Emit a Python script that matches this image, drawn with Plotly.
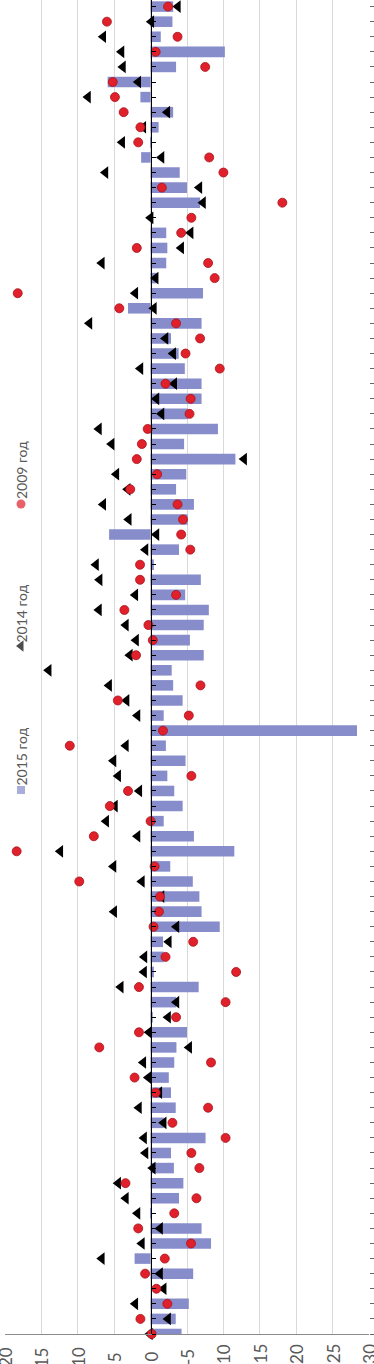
import plotly.graph_objects as go

# ---------------- data (original order: first category at the bottom) ----------------
categories = [f"Регион {i}" for i in range(1, 90)]

# values read top->bottom in the picture, reversed below so index 0 = bottom row
v2015_top = [-3.1, -3.0, -1.4, -10.2, -3.5, 5.9, 1.4, -3.1, -1.1, -0.1,
             1.3, -4.0, -5.0, -6.8, 0.0, -2.15, -2.3, -2.15, -0.8, -7.2,
             3.1, -7.0, -2.8, -3.85, -4.7, -7.0, -7.0, -5.1, -9.25, -4.6,
             -11.65, -4.9, -3.5, -5.95, -5.1, 5.7, -3.9, -0.45, -6.9, -4.75,
             -8.0, -7.3, -5.4, -7.3, -2.9, -3.1, -4.4, -1.8, -28.35, -2.1,
             -4.8, -2.3, -3.25, -4.4, -1.8, -5.95, -11.5, -2.7, -5.8, -6.7,
             -7.0, -9.5, -1.7, -1.8, -0.45, -6.6, -3.5, -0.3, -5.0, -3.55,
             -3.25, -2.5, -2.8, -3.45, -1.8, -7.55, -2.8, -3.2, -4.5, -3.9,
             -0.15, -7.0, -8.3, 2.2, -5.85, 0.0, -5.25, -3.45, -4.25]
v2014_top = [-3.75, -0.1, 6.5, 4.0, 3.8, 1.7, 8.6, -2.3, 1.0, 3.9,
             -1.5, 6.2, -6.7, -7.2, 0.0, -5.5, -4.2, 6.7, -0.7, 2.1,
             -0.45, 8.4, -2.05, -3.1, 1.4, -3.25, -0.8, -1.5, 7.1, 5.35,
             -12.85, 4.7, 3.15, 6.5, 3.0, -0.8, 0.7, 7.5, 7.0, 2.1,
             7.1, 3.4, 2.0, 2.85, 14.0, 5.7, 3.3, 1.8, None, 3.4,
             5.1, 4.45, 1.55, 4.9, 6.1, 1.8, 12.4, 5.1, 1.2, -1.5,
             5.0, -3.55, -2.5, 0.85, 0.9, 4.1, -3.55, -2.4, 0.2, -5.3,
             1.0, 0.3, -1.2, 1.6, -1.8, 0.9, 0.7, -0.3, 4.45, 3.4,
             1.8, -1.3, 1.2, 6.7, -1.3, -1.8, 2.1, -2.4, 0.1]
v2009_top = [-2.4, 6.0, -3.7, -0.7, -7.5, 5.2, 4.9, 3.7, 1.4, 1.7,
             -8.05, -10.0, -1.55, -18.1, -5.6, -4.2, 1.9, -7.9, -8.8, 18.25,
             4.3, -3.5, -6.8, -4.8, -9.5, -2.05, -5.5, -5.35, 0.4, 1.2,
             1.9, -0.9, 2.8, -3.7, -4.45, -4.2, -5.45, 1.45, 1.45, -3.5,
             3.6, 0.3, -0.3, 2.0, None, -6.85, 4.5, -5.25, -1.7, 11.1,
             None, -5.6, 3.1, 5.6, 0.0, 7.8, 18.4, -0.55, 9.8, -1.3,
             -1.15, -0.4, -5.85, -2.05, -11.75, 1.6, -10.3, -3.5, 1.6, 7.05,
             -8.3, 2.2, -0.7, -7.9, -3.0, -10.3, -5.6, -6.7, 3.45, -6.3,
             -3.25, 1.7, -5.55, -1.95, 0.75, -0.8, -2.3, 1.4, -0.15]

v2015 = v2015_top[::-1]
v2014 = v2014_top[::-1]
v2009 = v2009_top[::-1]

series_names = ["2015 год", "2014 год", "2009 год"]
tick_vals = [20, 15, 10, 5, 0, -5, -10, -15, -20, -25, -30]
tick_text = ["20", "15", "10", "5", "0", "-5", "-10", "-15", "-20", "-25", "-30"]

# ---------------- styling ----------------
W, H = 374, 1364
ML, MR, MT, MB = 5, 5, 0, 30
PW, PH = W - ML - MR, H - MT - MB
BAR_COLOR = "#878CCB"
RED = "#E0202A"
TXT = "#595959"
FONT = "Lato"

n = len(categories)
top_pad = 6.6 / (PH / (n - 1 + 0.44))


def px_to_paper_y(py):
    return (MT + PH - py) / PH


def px_to_paper_x(px):
    return (px - ML) / PW


fig = go.Figure()
fig.add_trace(go.Bar(x=v2015, y=categories, orientation="h", name=series_names[0],
                     marker=dict(color=BAR_COLOR, line=dict(width=0)), showlegend=False))
fig.add_trace(go.Scatter(x=v2014, y=categories, mode="markers", name=series_names[1],
                         marker=dict(symbol="triangle-left", size=11, color="#000000"),
                         cliponaxis=False, showlegend=False))
fig.add_trace(go.Scatter(x=v2009, y=categories, mode="markers", name=series_names[2],
                         marker=dict(symbol="circle", size=9, color=RED,
                                     line=dict(color="#A8141C", width=0.8)),
                         cliponaxis=False, showlegend=False))

# dummy trace to carry the right-edge category axis (label stubs)
fig.add_trace(go.Scatter(x=[None] * n, y=categories, yaxis="y3", mode="none",
                         showlegend=False, hoverinfo="skip"))

# legend swatches drawn on a pixel-coordinate overlay
leg_x = [21, 21, 21]
leg_y = [504, 646, 790]
fig.add_trace(go.Scatter(x=leg_x, y=leg_y, xaxis="x2", yaxis="y2", mode="markers",
                         marker=dict(symbol=["circle", "triangle-left", "square"],
                                     size=[9, 10, 8], color=[RED, "#000000", BAR_COLOR],
                                     line=dict(width=0)),
                         cliponaxis=False, showlegend=False, hoverinfo="skip"))

annotations = []
for name, cy in zip(series_names, [756.5, 613.5, 470]):
    annotations.append(dict(text=name, x=px_to_paper_x(21), y=px_to_paper_y(cy),
                            xref="paper", yref="paper", showarrow=False, textangle=-90,
                            xanchor="center", yanchor="middle",
                            font=dict(family=FONT, size=14, color=TXT)))

# value-axis labels: rotated, centred on a common line below the axis
for val, txt in zip(tick_vals, tick_text):
    annotations.append(dict(text=txt, x=val, xref="x", y=px_to_paper_y(1357), yref="paper",
                            showarrow=False, textangle=-90, xanchor="center", yanchor="middle",
                            font=dict(family=FONT, size=17, color=TXT)))

fig.update_layout(
    width=W, height=H,
    margin=dict(l=ML, r=MR, t=MT, b=MB, pad=0),
    paper_bgcolor="white", plot_bgcolor="white",
    template="none",
    bargap=0.3,
    showlegend=False,
    annotations=annotations,
    xaxis=dict(range=[20, -30], tickmode="array", tickvals=tick_vals,
               showticklabels=False, showgrid=True, gridcolor="#D9D9D9", gridwidth=1,
               zeroline=False, showline=True, linecolor="#8C8C8C", linewidth=1,
               ticks="", automargin=False, fixedrange=True),
    yaxis=dict(type="category", range=[0, n - 1 + top_pad], showgrid=False,
               anchor="free", position=0.4, side="right",
               showline=True, linecolor="#000000", linewidth=1,
               ticks="outside", ticklen=4, tickcolor="#000000", tickwidth=1,
               showticklabels=False, zeroline=False, automargin=False, fixedrange=True),
    yaxis3=dict(type="category", range=[0, n - 1 + top_pad], overlaying="y", side="right",
                anchor="x", showgrid=False, showline=False, zeroline=False,
                ticks="outside", ticklen=4, tickcolor="#666666", tickwidth=1,
                showticklabels=False, automargin=False, fixedrange=True),
    xaxis2=dict(overlaying="x", range=[ML, ML + PW], visible=False, fixedrange=True),
    yaxis2=dict(overlaying="y", range=[MT + PH, MT], visible=False, fixedrange=True),
)

fig.write_html("out.html", config={"displayModeBar": False},
               post_script="document.body.style.margin='0px';document.body.style.overflow='hidden';")
